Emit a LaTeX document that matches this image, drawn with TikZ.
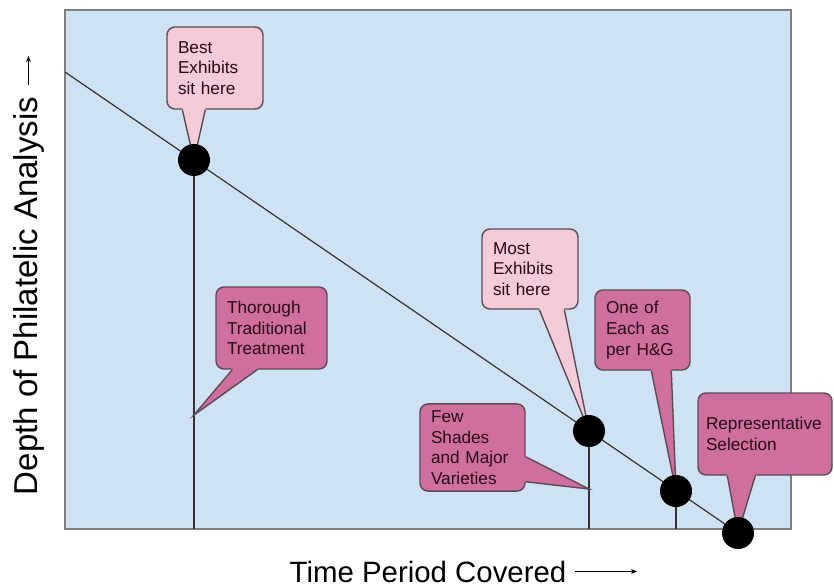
\documentclass[tikz,border=0pt]{standalone}
\usepackage{fontspec}
\setmainfont{Liberation Sans}
\usetikzlibrary{arrows.meta, calc}
\definecolor{plotblue}{HTML}{CFE2F3}
\definecolor{lightpink}{HTML}{F4CCD8}
\definecolor{darkpink}{HTML}{CF6F9E}
\definecolor{calloutline}{HTML}{5E4A57}
\definecolor{calltext}{HTML}{2A0A1A}

\begin{document}
\begin{tikzpicture}[x=0.5pt, y=-0.5pt,
    callbox/.style={rectangle, draw=calloutline, line width=0.7pt, rounded corners=4pt, text=calltext, font=\fontsize{8.6}{10.3}\selectfont, align=left, text width=37pt, inner xsep=5.5pt, minimum height=41pt},
    lightbox/.style={callbox, fill=lightpink},
    darkbox/.style={callbox, fill=darkpink},
    tail/.style={draw=calloutline, line width=0.7pt},
    dot/.style={circle, fill=black, minimum size=16pt, inner sep=0pt},
    plotline/.style={line width=0.6pt, draw=black!80},
    axisarrow/.style={line width=0.5pt, -{Stealth[length=3pt, width=2.4pt]}}
]
\useasboundingbox (0,0) rectangle (834,588);

% Plot area
\draw[draw=gray, fill=plotblue, line width=0.8pt] (65,10) rectangle (791,529);

% Points on the line
\coordinate (lstart) at (65,72);
\coordinate (d1) at (194,160);
\coordinate (d2) at (589,431);
\coordinate (d3) at (676,491);
\coordinate (d4) at (738,533);
\coordinate (b1) at (194,529);
\coordinate (b2) at (589,529);
\coordinate (b3) at (676,529);
\coordinate (tt) at (194,415);
\coordinate (ft) at (589,489);

\draw[plotline] (lstart) -- (d4);
\draw[plotline] (d1) -- (b1);
\draw[plotline] (d2) -- (b2);
\draw[plotline] (d3) -- (b3);

% Callouts
\node[lightbox] (best) at (215,68) {Best\\Exhibits\\sit here};
\node[darkbox, text width=44.5pt] (thorough) at (271.5,328) {Thorough\\Traditional\\Treatment};
\node[lightbox, minimum height=40pt] (most) at (530,269) {Most\\Exhibits\\sit here};
\node[darkbox, text width=41.5pt] (few) at (472.5,447.5) {Few\\Shades\\and Major\\Varieties};
\node[darkbox, text width=36.5pt, minimum height=40pt] (oneof) at (642.5,330) {One of\\Each as\\per H\&G};
\node[darkbox, text width=59pt, inner xsep=4pt] (repr) at (765,434) {Representative\\Selection};

% Callout tails
\fill[lightpink] ($(best.south west)+(16,-3)$) -- ($(best.south west)+(16,0)$) -- (d1) -- ($(best.south west)+(39,0)$) -- ($(best.south west)+(39,-3)$) -- cycle;
\draw[tail] ($(best.south west)+(16,0)$) -- (d1) -- ($(best.south west)+(39,0)$);

\fill[darkpink] ($(thorough.south west)+(17,-3)$) -- ($(thorough.south west)+(17,0)$) -- (tt) -- ($(thorough.south west)+(42,0)$) -- ($(thorough.south west)+(42,-3)$) -- cycle;
\draw[tail] ($(thorough.south west)+(17,0)$) -- (tt) -- ($(thorough.south west)+(42,0)$);

\fill[lightpink] ($(most.south west)+(58,-3)$) -- ($(most.south west)+(58,0)$) -- (d2) -- ($(most.south west)+(83,0)$) -- ($(most.south west)+(83,-3)$) -- cycle;
\draw[tail] ($(most.south west)+(58,0)$) -- (d2) -- ($(most.south west)+(83,0)$);

\fill[darkpink] ($(few.south east)+(-3,-35)$) -- ($(few.south east)+(0,-35)$) -- (ft) -- ($(few.south east)+(0,-10)$) -- ($(few.south east)+(-3,-10)$) -- cycle;
\draw[tail] ($(few.south east)+(0,-35)$) -- (ft) -- ($(few.south east)+(0,-10)$);

\fill[darkpink] ($(oneof.south west)+(57,-3)$) -- ($(oneof.south west)+(57,0)$) -- (d3) -- ($(oneof.south west)+(77,0)$) -- ($(oneof.south west)+(77,-3)$) -- cycle;
\draw[tail] ($(oneof.south west)+(57,0)$) -- (d3) -- ($(oneof.south west)+(77,0)$);

\fill[darkpink] ($(repr.south west)+(30,-3)$) -- ($(repr.south west)+(30,0)$) -- (d4) -- ($(repr.south west)+(58,0)$) -- ($(repr.south west)+(58,-3)$) -- cycle;
\draw[tail] ($(repr.south west)+(30,0)$) -- (d4) -- ($(repr.south west)+(58,0)$);

% Dots
\node[dot] (p1) at (d1) {};
\node[dot] (p2) at (d2) {};
\node[dot] (p3) at (d3) {};
\node[dot] (p4) at (d4) {};

% Axis labels
\node[font=\fontsize{16.5}{19}\selectfont, rotate=90, anchor=base, inner sep=2pt] (ylab) at (37,296) {Depth of Philatelic Analysis};
\coordinate (ytip) at (28,56);
\draw[axisarrow] (ylab.east) ++(0,-8) -- (ylab.east |- ytip);

\node[font=\fontsize{14.7}{17}\selectfont, anchor=base, inner xsep=4pt] (xlab) at (428,582) {Time Period Covered};
\coordinate (xtip) at (637,572);
\draw[axisarrow] (xlab.east) -- (xlab.east -| xtip);

\end{tikzpicture}
\end{document}
